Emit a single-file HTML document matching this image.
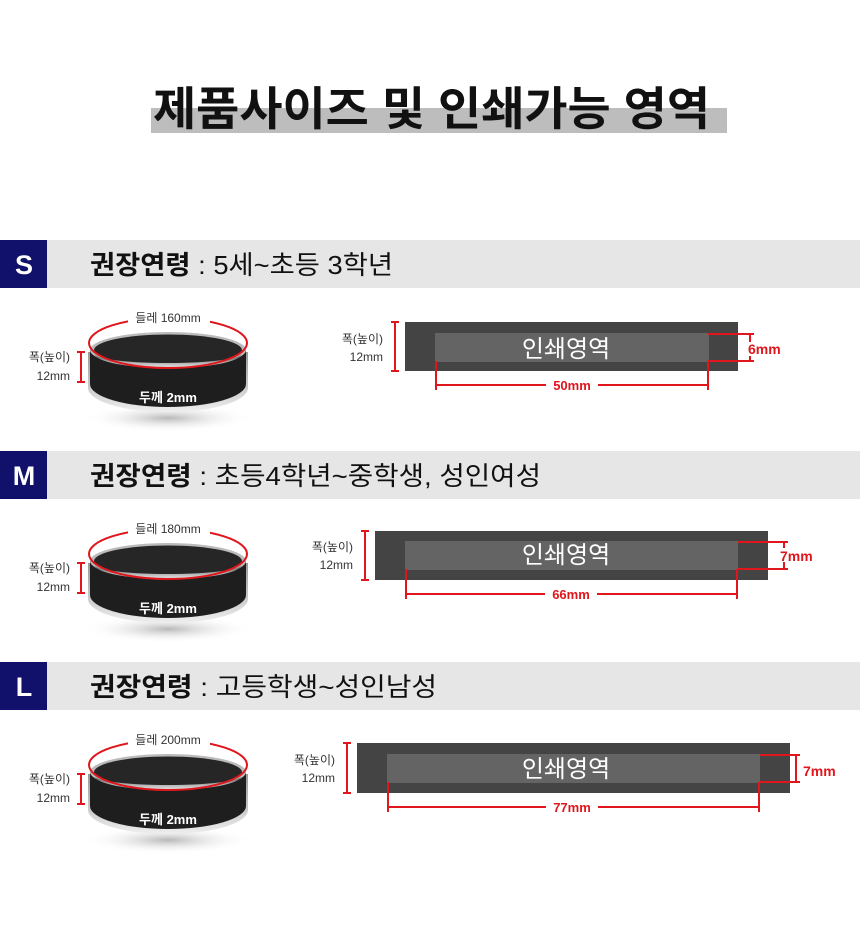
<!DOCTYPE html>
<html><head><meta charset="utf-8"><style>
html,body{margin:0;padding:0;background:#fff;}
svg{display:block;}
text{font-family:"Liberation Sans","Noto Sans CJK KR",sans-serif;}
</style></head><body>
<svg width="860" height="952" viewBox="0 0 860 952" xmlns="http://www.w3.org/2000/svg">
<defs>
<linearGradient id="sil" x1="0" x2="0" y1="0" y2="1"><stop offset="0" stop-color="#999"/><stop offset="1" stop-color="#eee"/></linearGradient>
<linearGradient id="inn" x1="0" x2="0" y1="0" y2="1"><stop offset="0" stop-color="#555"/><stop offset="1" stop-color="#e8e8e8"/></linearGradient>
<radialGradient id="shd" cx="0.5" cy="0.5" r="0.5"><stop offset="0" stop-color="#888" stop-opacity="0.6"/><stop offset="1" stop-color="#fff" stop-opacity="0"/></radialGradient>
<g id="ring">
 <ellipse cx="168" cy="418" rx="85" ry="14" fill="url(#shd)"/>
 <path d="M88 352 L88 388 A80 24 0 0 0 248 388 L248 352 Z" fill="url(#sil)"/>
 <path d="M90 350 L90 384 A78 23 0 0 0 246 384 L246 350 Z" fill="#1e1e1e"/>
 <ellipse cx="168" cy="350" rx="78" ry="18" fill="#bbb"/>
 <ellipse cx="168" cy="350" rx="74" ry="15.5" fill="#262626"/>
 <path d="M95 354 A73 14 0 0 0 241 354 A73 9 0 0 1 95 354 Z" fill="url(#inn)"/>
 <ellipse cx="168" cy="343" rx="79" ry="25" fill="none" stroke="#e0161c" stroke-width="2"/>
 <rect x="128" y="310" width="82" height="14" fill="#fff"/>
 <text x="168" y="322" font-size="12" text-anchor="middle" fill="#333">들레 160mm</text>
 <text x="168" y="402" font-size="13" font-weight="bold" text-anchor="middle" fill="#fff">두께 2mm</text>
 <text x="70" y="361" font-size="12" text-anchor="end" fill="#333">폭(높이)</text>
 <text x="70" y="380" font-size="12" text-anchor="end" fill="#333">12mm</text>
 <path d="M77 352 H85 M81 352 V382 M77 382 H85" stroke="#e0161c" stroke-width="2" fill="none"/>
</g>
</defs>

<rect x="151" y="108" width="576" height="25" fill="#bdbdbd"/>
<text x="153" y="125" font-size="46" font-weight="bold" fill="#111" textLength="557" lengthAdjust="spacingAndGlyphs">제품사이즈 및 인쇄가능 영역</text>

<rect x="47" y="240" width="813" height="48" fill="#e6e6e6"/>
<rect x="0" y="240" width="47" height="48" fill="#11106a"/>
<text x="24" y="274" font-size="27" font-weight="bold" fill="#fff" text-anchor="middle">S</text>
<text x="90" y="274" font-size="26" fill="#111" textLength="303" lengthAdjust="spacingAndGlyphs"><tspan font-weight="bold">권장연령</tspan> : 5세~초등 3학년</text>

<rect x="47" y="451" width="813" height="48" fill="#e6e6e6"/>
<rect x="0" y="451" width="47" height="48" fill="#11106a"/>
<text x="24" y="485" font-size="27" font-weight="bold" fill="#fff" text-anchor="middle">M</text>
<text x="90" y="485" font-size="26" fill="#111" textLength="451" lengthAdjust="spacingAndGlyphs"><tspan font-weight="bold">권장연령</tspan> : 초등4학년~중학생, 성인여성</text>

<rect x="47" y="662" width="813" height="48" fill="#e6e6e6"/>
<rect x="0" y="662" width="47" height="48" fill="#11106a"/>
<text x="24" y="696" font-size="27" font-weight="bold" fill="#fff" text-anchor="middle">L</text>
<text x="90" y="696" font-size="26" fill="#111" textLength="347" lengthAdjust="spacingAndGlyphs"><tspan font-weight="bold">권장연령</tspan> : 고등학생~성인남성</text>

<use href="#ring"/>
<g transform="translate(0,211)"><use href="#ring"/><rect x="128" y="310" width="82" height="14" fill="#fff"/><text x="168" y="322" font-size="12" text-anchor="middle" fill="#333">들레 180mm</text></g>
<g transform="translate(0,422)"><use href="#ring"/><rect x="128" y="310" width="82" height="14" fill="#fff"/><text x="168" y="322" font-size="12" text-anchor="middle" fill="#333">들레 200mm</text></g>

<g>
<text x="383" y="343" font-size="12" text-anchor="end" fill="#333">폭(높이)</text>
<text x="383" y="361" font-size="12" text-anchor="end" fill="#333">12mm</text>
<path d="M391 322 H399 M395 322 V371 M391 371 H399" stroke="#e0161c" stroke-width="2" fill="none"/>
<rect x="405" y="322" width="333" height="49" fill="#444"/>
<rect x="435" y="333" width="274" height="29" fill="#646464"/>
<text x="566" y="357" font-size="24" fill="#fff" text-anchor="middle">인쇄영역</text>
<path d="M708 334 H754 M750 334 V361 M708 361 H754" stroke="#e0161c" stroke-width="2" fill="none"/>
<rect x="740" y="342" width="50" height="14" fill="#fff"/>
<text x="748" y="354" font-size="14" font-weight="bold" fill="#e0161c">6mm</text>
<path d="M436 361 V390 M708 361 V390 M436 385 H708" stroke="#e0161c" stroke-width="2" fill="none"/>
<rect x="546" y="378" width="52" height="14" fill="#fff"/>
<text x="572" y="390" font-size="13" font-weight="bold" fill="#e0161c" text-anchor="middle">50mm</text>
</g>

<g>
<text x="353" y="551" font-size="12" text-anchor="end" fill="#333">폭(높이)</text>
<text x="353" y="569" font-size="12" text-anchor="end" fill="#333">12mm</text>
<path d="M361 531 H369 M365 531 V580 M361 580 H369" stroke="#e0161c" stroke-width="2" fill="none"/>
<rect x="375" y="531" width="393" height="49" fill="#444"/>
<rect x="405" y="541" width="333" height="29" fill="#646464"/>
<text x="566" y="563" font-size="24" fill="#fff" text-anchor="middle">인쇄영역</text>
<path d="M738 542 H788 M784 542 V569 M738 569 H788" stroke="#e0161c" stroke-width="2" fill="none"/>
<rect x="776" y="548" width="50" height="14" fill="#fff"/>
<text x="780" y="561" font-size="14" font-weight="bold" fill="#e0161c">7mm</text>
<path d="M406 569 V599 M737 569 V599 M406 594 H737" stroke="#e0161c" stroke-width="2" fill="none"/>
<rect x="545" y="587" width="52" height="14" fill="#fff"/>
<text x="571" y="599" font-size="13" font-weight="bold" fill="#e0161c" text-anchor="middle">66mm</text>
</g>

<g>
<text x="335" y="764" font-size="12" text-anchor="end" fill="#333">폭(높이)</text>
<text x="335" y="782" font-size="12" text-anchor="end" fill="#333">12mm</text>
<path d="M343 743 H351 M347 743 V793 M343 793 H351" stroke="#e0161c" stroke-width="2" fill="none"/>
<rect x="357" y="743" width="433" height="50" fill="#444"/>
<rect x="387" y="754" width="373" height="29" fill="#646464"/>
<text x="566" y="777" font-size="24" fill="#fff" text-anchor="middle">인쇄영역</text>
<path d="M760 755 H800 M796 755 V782 M760 782 H800" stroke="#e0161c" stroke-width="2" fill="none"/>
<rect x="800" y="763" width="50" height="14" fill="#fff"/>
<text x="803" y="776" font-size="14" font-weight="bold" fill="#e0161c">7mm</text>
<path d="M388 782 V812 M759 782 V812 M388 807 H759" stroke="#e0161c" stroke-width="2" fill="none"/>
<rect x="546" y="800" width="52" height="14" fill="#fff"/>
<text x="572" y="812" font-size="13" font-weight="bold" fill="#e0161c" text-anchor="middle">77mm</text>
</g>
</svg>
</body></html>
